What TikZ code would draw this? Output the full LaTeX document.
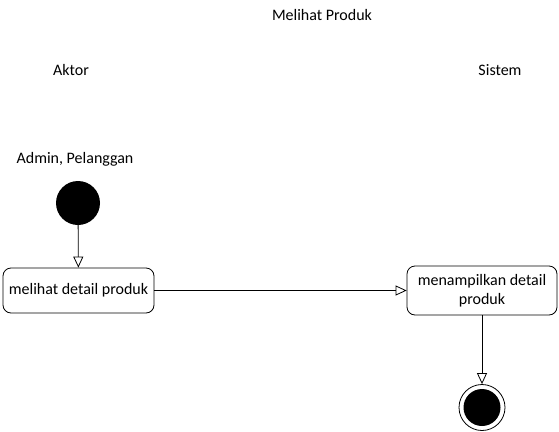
\documentclass[tikz,border=0pt]{standalone}
\usepackage{fontspec}
\setmainfont{Carlito}
\usetikzlibrary{arrows.meta}
\begin{document}
\begin{tikzpicture}[x=1pt,y=-1pt,font=\fontsize{16}{18.5}\selectfont,
  act/.style={draw, rounded corners=8pt, thick, inner sep=0pt, align=center},
  flow/.style={draw, thick, -{Triangle[open,length=11pt,width=10pt]}}]
\useasboundingbox (0,0) rectangle (559,431);
\node[] (title) at (322,15){Melihat Produk};
\node[] (aktor) at (71,70){Aktor};
\node[] (sistem) at (500,70){Sistem};
\node[] (peran) at (75,159){Admin, Pelanggan};
\node[circle, fill, minimum size=44pt, inner sep=0pt] (start) at (78,203){};
\node[act, minimum width=151pt, minimum height=45pt] (lihat) at (78.5,290.5){melihat detail produk};
\node[act, minimum width=150pt, minimum height=49pt] (tampil) at (482,290.5){menampilkan detail\\produk};
\node[circle, draw, thick, minimum size=46pt, inner sep=0pt] (stop) at (482,407.5){};
\node[circle, fill, minimum size=37pt, inner sep=0pt] (stopin) at (stop){};
\draw[flow](start) -- (lihat);
\draw[flow](lihat) -- (tampil);
\draw[flow](tampil) -- (stop);
\end{tikzpicture}
\end{document}
